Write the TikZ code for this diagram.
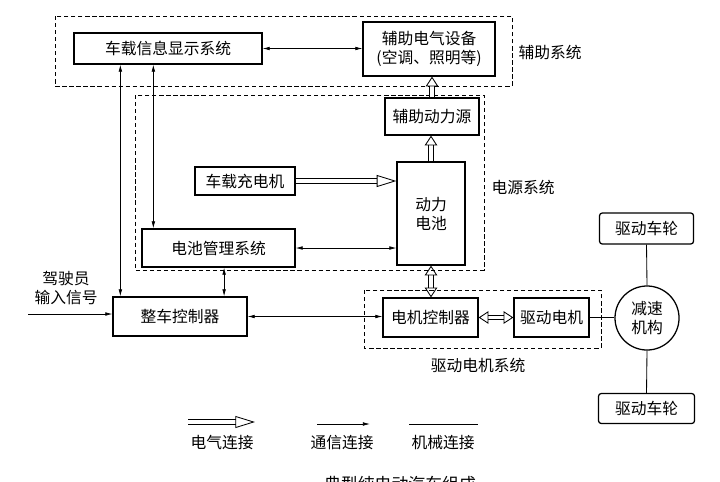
\documentclass[tikz,border=0pt]{standalone}
\usepackage{fontspec}
\newfontfamily\cjk{Noto Sans CJK SC}
\usetikzlibrary{arrows.meta}

\begin{document}
\begin{tikzpicture}[x=0.025cm, y=-0.025cm,
  every node/.style={font=\cjk\fontsize{11.2}{13.5}\selectfont},
  box/.style={draw, line width=0.9pt, inner sep=1pt, align=center},
  group/.style={draw, line width=0.7pt, dash pattern=on 3pt off 2pt},
  comm/.style={line width=0.5pt, >={Latex[length=5pt,width=2.6pt]}},
  elec/.style={double, double distance=2.8pt, line width=0.6pt,
    >={Triangle[open,length=7pt,width=9pt,line width=0.6pt]}},
  eleclong/.style={elec, >={Triangle[open,length=14pt,width=8.5pt,line width=0.6pt]}},
  mech/.style={line width=0.6pt}]
  \useasboundingbox (0,0) rectangle (720,481);
  \fill[white] (0,0) rectangle (720,481);
  \draw[group] (55,16) rectangle (512,86);
  \draw[group] (135,95) rectangle (484,270);
  \draw[group] (364,290) rectangle (601,348);
  \node[box, minimum width=4.7cm, minimum height=0.775cm] (info) at (168,48.5) {车载信息显示系统};
  \node[box, minimum width=3.3cm, minimum height=1.35cm] (aux) at (429,49) {辅助电气设备\\(空调、照明等)};
  \node[box, minimum width=2.35cm, minimum height=0.925cm] (auxpow) at (432,116.5) {辅助动力源};
  \node[box, minimum width=1.7cm, minimum height=2.575cm] (batt) at (431,213.5) {动力\\电池};
  \node[box, minimum width=2.5cm, minimum height=0.7cm] (charger) at (245,181) {车载充电机};
  \node[box, minimum width=3.825cm, minimum height=0.95cm] (bms) at (218.5,248) {电池管理系统};
  \node[box, minimum width=3.35cm, minimum height=0.975cm] (vcu) at (180,316.5) {整车控制器};
  \node[box, minimum width=2.375cm, minimum height=0.975cm] (mcu) at (430.5,317.5) {电机控制器};
  \node[box, minimum width=1.875cm, minimum height=0.975cm] (motor) at (551.5,317.5) {驱动电机};
  \node[box, circle, minimum size=1.6cm] (gear) at (647,318) {减速\\机构};
  \node[box, rounded corners=2pt, minimum width=2.35cm, minimum height=0.775cm] (wheeltop) at (646.5,228.5) {驱动车轮};
  \node[box, rounded corners=2pt, minimum width=2.4cm, minimum height=0.75cm] (wheelbot) at (646.5,408.5) {驱动车轮};
  \node (auxlabel) at (550,52) {辅助系统};
  \node (powlabel) at (523,187) {电源系统};
  \node (drvlabel) at (478,365) {驱动电机系统};
  \node[align=center] (driver) at (66,288) {驾驶员\\输入信号};
  \coordinate (drvin) at (28,314);
  \draw[comm, <->] (info.east) -- (info.east -| aux.west);
  \draw[comm, <->] ([xshift=0.2cm]vcu.north west |- info.south) -- ([xshift=0.2cm]vcu.north west);
  \draw[comm, <->] ([xshift=0.3cm]bms.north west |- info.south) -- ([xshift=0.3cm]bms.north west);
  \draw[comm, <->] ([xshift=0.14cm]bms.south) -- ([xshift=0.14cm]bms.south |- vcu.north);
  \draw[comm, <->] (bms.east) -- (bms.east -| batt.west);
  \draw[comm, <->] (vcu.east) -- (vcu.east -| mcu.west);
  \draw[comm, ->] (drvin) -- (drvin -| vcu.west);
  \draw[eleclong, ->] (charger.east) -- (charger.east -| batt.west);
  \draw[elec, ->] (batt.north) -- (batt.north |- auxpow.south);
  \draw[elec, ->] (auxpow.north) -- (auxpow.north |- aux.south);
  \draw[elec, <->] (batt.south) -- (batt.south |- mcu.north);
  \draw[elec, <->] (mcu.east) -- (mcu.east -| motor.west);
  \draw[mech] (motor.east) -- (motor.east -| gear.west);
  \draw[mech] (gear.north) -- (wheeltop.south);
  \draw[mech] (gear.south) -- (wheelbot.north);
  % legend
  \coordinate (le1) at (188,422); \coordinate (le2) at (255,422);
  \coordinate (lc1) at (317,424); \coordinate (lc2) at (370,424);
  \coordinate (lm1) at (409,424); \coordinate (lm2) at (478,424);
  \draw[eleclong, ->] (le1) -- (le2);
  \draw[comm, ->] (lc1) -- (lc2);
  \draw[mech] (lm1) -- (lm2);
  \node (elegend) at (222,443) {电气连接};
  \node (clegend) at (342,443) {通信连接};
  \node (mlegend) at (443,443) {机械连接};
  \node[font=\cjk\fontsize{12}{14}\selectfont] (caption) at (400,484) {典型纯电动汽车组成};
\end{tikzpicture}
\end{document}
